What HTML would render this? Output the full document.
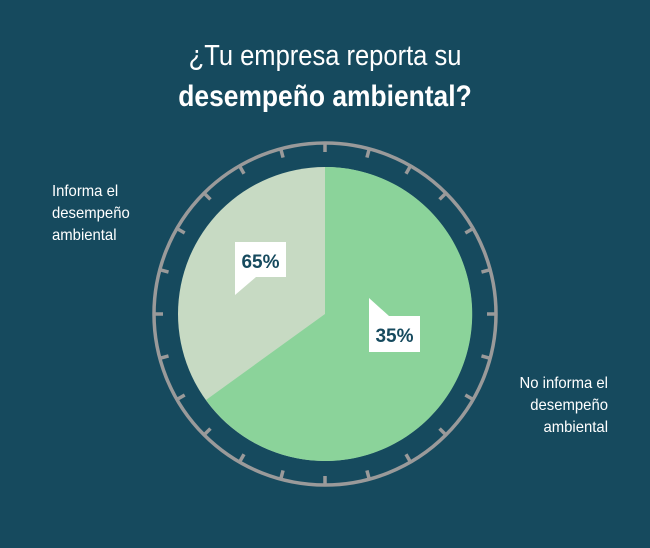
<!DOCTYPE html>
<html><head><meta charset="utf-8"><style>
html,body{margin:0;padding:0;background:#164a5e;}
body{width:650px;height:548px;position:relative;overflow:hidden;font-family:"Liberation Sans",sans-serif;}
.t{position:absolute;left:0;width:650px;text-align:center;color:#fff;transform:scaleX(0.88);transform-origin:325px 0;}
.l{position:absolute;color:#fff;font-size:16px;line-height:22px;transform:scaleX(0.93);}
</style></head><body>
<div class="t" style="top:40px;font-size:29px;">¿Tu empresa reporta su</div>
<div class="t" style="top:80px;font-size:30px;font-weight:bold;">desempeño ambiental?</div>
<div class="l" style="left:52px;top:181px;transform-origin:0 0;">Informa el<br>desempeño<br>ambiental</div>
<div class="l" style="left:490px;top:373px;text-align:right;width:118px;transform-origin:118px 0;">No informa el<br>desempeño<br>ambiental</div>
<svg width="650" height="548" style="position:absolute;left:0;top:0">
<circle cx="325" cy="314" r="171" fill="none" stroke="#9a9a9a" stroke-width="3.5"/>
<g id="ticks" stroke="#9a9a9a" stroke-width="3.5"></g>
<circle cx="325" cy="314" r="147" fill="#c7dac3"/>
<path d="M325 314 L325 167 A147 147 0 1 1 206 400 Z" fill="#8bd39a"/>
<path d="M235 242 H286 V277 H256 L235 295 Z" fill="#fff"/>
<path d="M369 298 L389 316 H420 V352 H369 Z" fill="#fff"/>
<text x="260.5" y="268" text-anchor="middle" font-size="19" font-weight="bold" fill="#164a5e" font-family="Liberation Sans">65%</text>
<text x="394.5" y="342" text-anchor="middle" font-size="19" font-weight="bold" fill="#164a5e" font-family="Liberation Sans">35%</text>
</svg>
<script>
var g=document.getElementById('ticks'),s='';
for(var i=0;i<24;i++){var a=i*Math.PI/12,c=Math.cos(a),n=Math.sin(a);
s+='<line x1="'+(325+c*171)+'" y1="'+(314+n*171)+'" x2="'+(325+c*162)+'" y2="'+(314+n*162)+'"/>';}
g.innerHTML=s;
</script>
</body></html>
